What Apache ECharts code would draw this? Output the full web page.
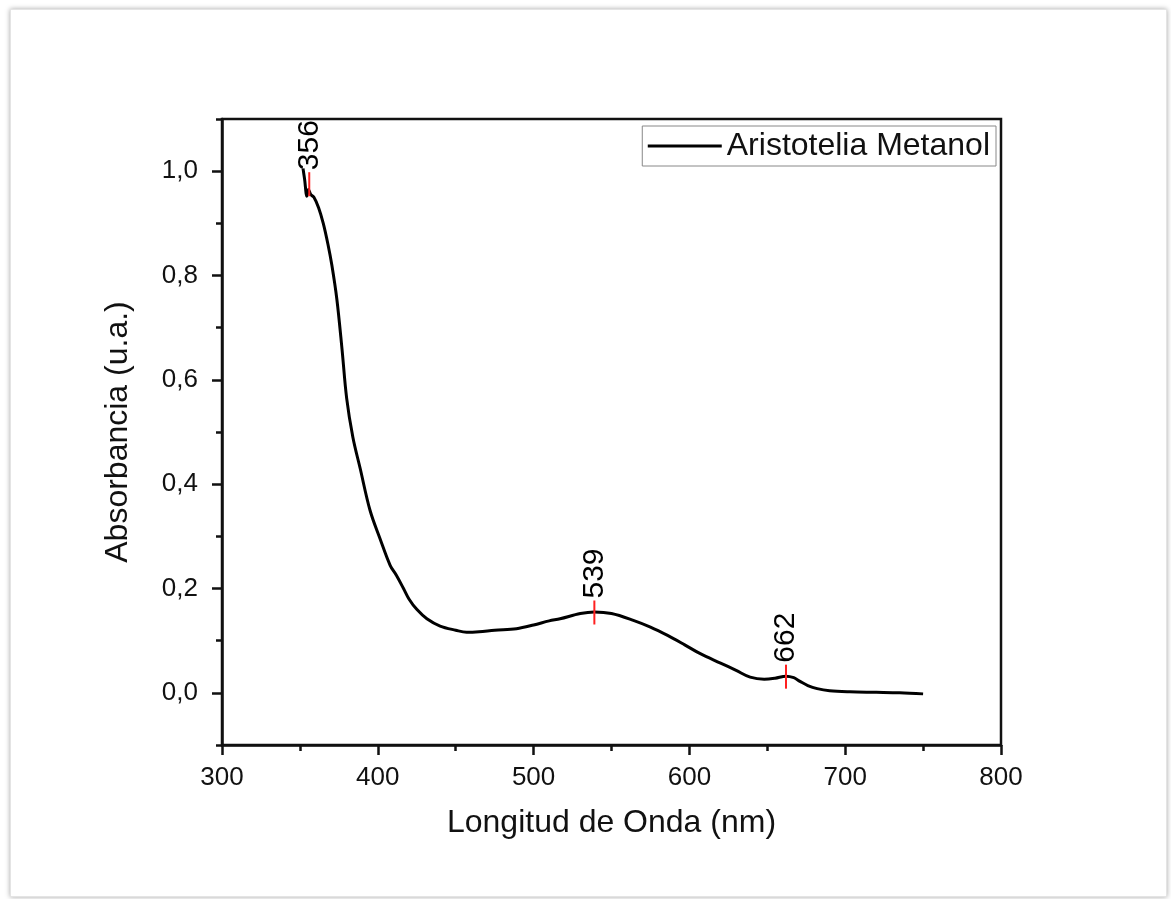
<!DOCTYPE html>
<html style="height: 100%">
<head>
<meta charset="utf-8">
<script src="https://cdn.jsdelivr.net/npm/echarts@6/dist/echarts.min.js"></script>
<style>
  html, body { margin: 0; height: 100%; background: #fff; }
  #frame { position: absolute; left: 10px; top: 9px; width: 1155px; height: 886px;
           border: 1px solid #e4e4e4; box-shadow: 0 0 5px rgba(0,0,0,0.35); background: #fff; }
  #container { position: absolute; left: 0; top: 0; width: 1171px; height: 899px; }
</style>
</head>
<body>
<div id="frame"></div>
<div id="container"></div>
<script type="text/javascript">
// wavelength (nm) and absorbance
var wavelength = [352, 353, 354.5, 355.5, 357, 359, 362, 365, 368, 370.5, 373.7, 377, 380, 384, 388.7, 395,
  401.5, 408, 412, 416.5, 420, 425, 431.5, 440, 450, 457, 465, 475, 489, 500, 510, 517, 530, 539, 550,
  564, 575, 586, 597, 607, 620, 630, 639, 648, 655, 662, 667, 671, 676, 682, 690, 703, 720, 735, 750];
var absorbance = [1.005, 0.985, 0.952, 0.965, 0.955, 0.95, 0.93, 0.90, 0.86, 0.82, 0.755, 0.66, 0.565, 0.49, 0.43, 0.35,
  0.295, 0.244, 0.225, 0.20, 0.18, 0.16, 0.142, 0.128, 0.12, 0.116, 0.117, 0.12, 0.123, 0.13, 0.138, 0.142, 0.152, 0.155, 0.152,
  0.139, 0.126, 0.11, 0.092, 0.075, 0.057, 0.043, 0.030, 0.026, 0.028, 0.032, 0.029, 0.022, 0.014, 0.008, 0.004, 0.002, 0.001, 0.000, -0.002];

// peak markers
var peakX = [356, 539, 662];
var peakY = [0.975, 0.154, 0.031];

var yMajorTicks = [0, 0.2, 0.4, 0.6, 0.8, 1.0];
var yMinorTicks = [-0.1, 0.1, 0.3, 0.5, 0.7, 0.9, 1.1];

var seriesName = 'Aristotelia Metanol';
var font = "'Liberation Sans', Arial, sans-serif";

var lineData = [];
for (var i = 0; i < wavelength.length; i++) {
  lineData.push([wavelength[i], absorbance[i]]);
}
var peakData = [];
for (var j = 0; j < peakX.length; j++) {
  peakData.push([peakX[j], peakY[j]]);
}

var myChart = echarts.init(document.getElementById('container'));
var option = {
  backgroundColor: 'transparent',
  animation: false,
  textStyle: { fontFamily: font },
  grid: {
    left: 222, right: 170, top: 119, bottom: 154,
    show: true, borderColor: '#111', borderWidth: 2.5
  },
  legend: {
    data: [seriesName],
    right: 175, top: 126,
    padding: [4, 6, 4, 4],
    borderColor: '#888', borderWidth: 1, borderRadius: 0,
    itemWidth: 74, itemHeight: 12,
    itemGap: 8,
    itemStyle: { opacity: 0 },
    lineStyle: { color: '#000', width: 3 },
    textStyle: { fontFamily: font, fontSize: 32, color: '#111' }
  },
  xAxis: {
    type: 'value',
    min: 300, max: 800, interval: 100,
    name: 'Longitud de Onda (nm)',
    nameLocation: 'middle', nameGap: 62,
    nameTextStyle: { fontFamily: font, fontSize: 32, color: '#111' },
    axisLine: { show: true, onZero: false, lineStyle: { color: '#111', width: 2.5 } },
    axisTick: { show: true, inside: false, length: 10, lineStyle: { color: '#111', width: 2.5 } },
    minorTick: { show: true, splitNumber: 2, length: 6, lineStyle: { color: '#111', width: 2.5 } },
    axisLabel: { fontFamily: font, fontSize: 26, color: '#111', margin: 20 },
    splitLine: { show: false }
  },
  yAxis: [{
    type: 'value',
    min: -0.1, max: 1.1,
    name: 'Absorbancia (u.a.)',
    nameLocation: 'middle', nameGap: 88,
    nameTextStyle: { fontFamily: font, fontSize: 32, color: '#111' },
    axisLine: { show: true, onZero: false, lineStyle: { color: '#111', width: 2.5 } },
    axisTick: { show: true, inside: false, length: 10, customValues: yMajorTicks, lineStyle: { color: '#111', width: 2.5 } },
    axisLabel: {
      fontFamily: font, fontSize: 26, color: '#111', margin: 24,
      customValues: yMajorTicks,
      formatter: function (v) { return v.toFixed(1).replace('.', ','); }
    },
    splitLine: { show: false }
  }, {
    type: 'value',
    min: -0.1, max: 1.1,
    position: 'left',
    axisLine: { show: false, onZero: false },
    axisTick: { show: true, inside: false, length: 6, customValues: yMinorTicks, lineStyle: { color: '#111', width: 2.5 } },
    axisLabel: { show: false },
    splitLine: { show: false }
  }],
  series: [{
    name: seriesName,
    type: 'line',
    data: lineData,
    symbol: 'none',
    smooth: 0.35,
    lineStyle: { color: '#000', width: 3 },
    itemStyle: { color: '#000' },
    z: 3
  }, {
    name: 'peaks',
    type: 'scatter',
    data: peakData,
    symbol: 'rect',
    symbolSize: [2, 24],
    itemStyle: { color: '#ff2020', opacity: 1 },
    label: {
      show: true,
      position: 'top',
      distance: 2,
      rotate: 90,
      align: 'left',
      verticalAlign: 'middle',
      fontFamily: font,
      fontSize: 30,
      color: '#000',
      formatter: function (p) { return String(p.value[0]); }
    },
    z: 4
  }]
};
myChart.setOption(option);
</script>
</body>
</html>
